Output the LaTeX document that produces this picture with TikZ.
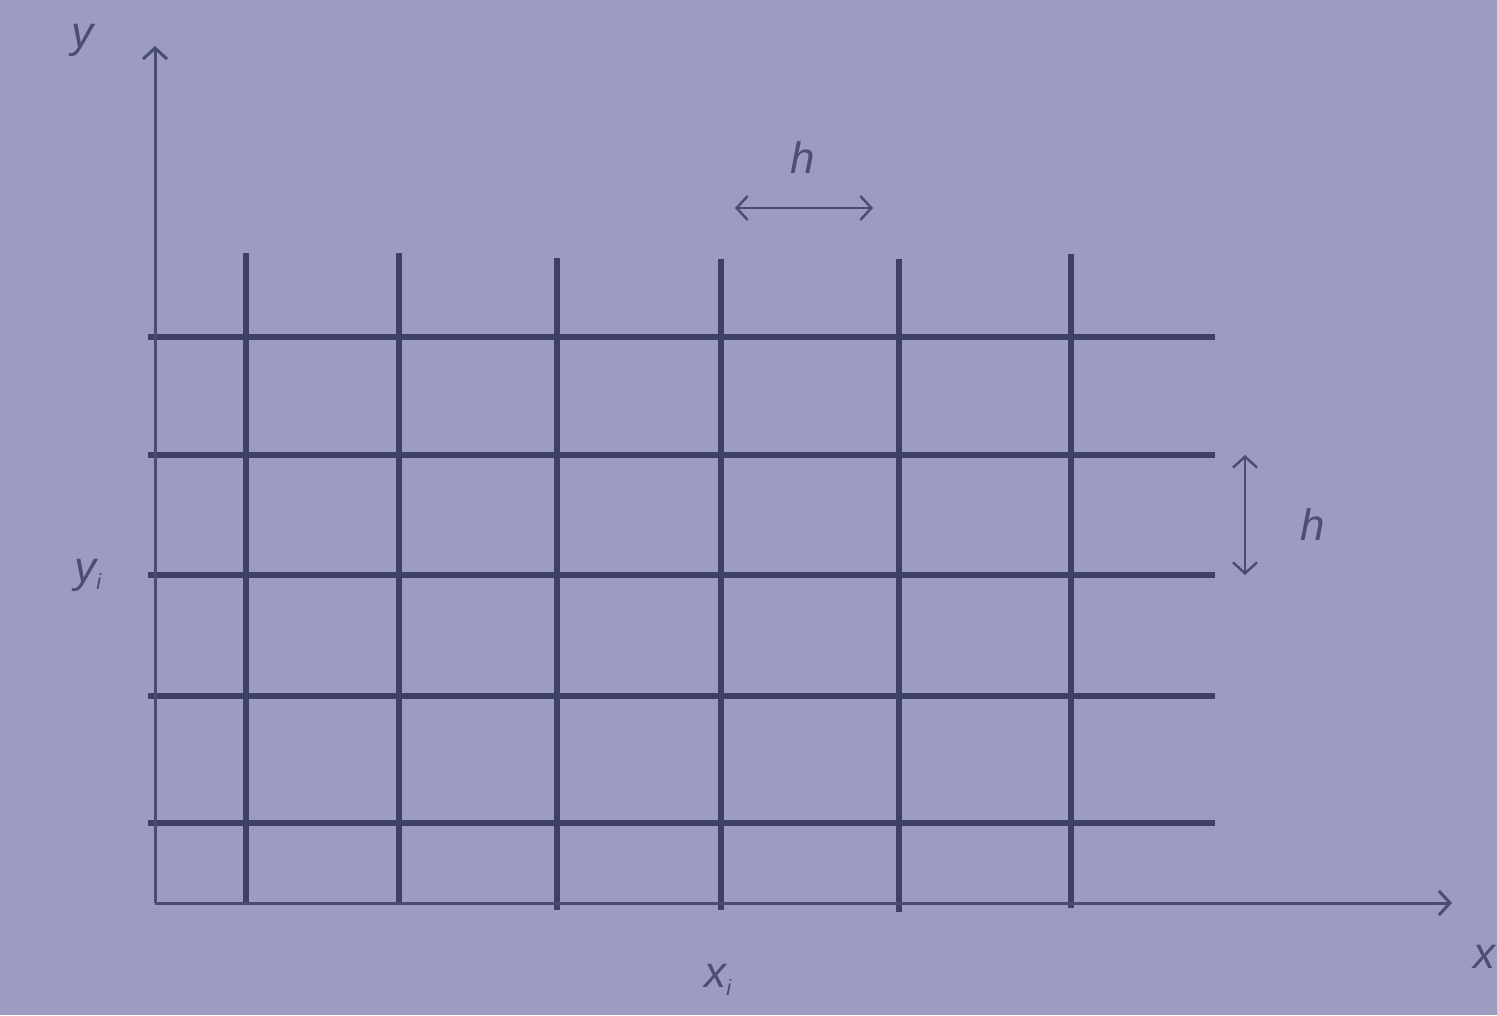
\documentclass[tikz,border=0pt]{standalone}
\usepackage{fontspec}
\setmainfont{Liberation Sans}
\usetikzlibrary{arrows.meta}
\definecolor{bgpaper}{HTML}{9B9CBF}
\definecolor{gridink}{HTML}{3E4065}
\definecolor{axisink}{HTML}{4A4C70}
\definecolor{labelink}{HTML}{4C4E72}
\tikzset{
  gridline/.style={draw=gridink, line width=6pt},
  axisline/.style={draw=axisink, line width=3pt, -{Straight Barb[length=11pt,width=24pt,line width=3pt]}},
  spanarrow/.style={draw=axisink, line width=2.4pt, {Straight Barb[length=11pt,width=24pt,line width=2.4pt]}-{Straight Barb[length=11pt,width=24pt,line width=2.4pt]}},
  axlabel/.style={text=labelink, inner sep=0pt, font=\fontsize{44}{52}\selectfont\itshape}
}
\begin{document}
\begin{tikzpicture}[x=1pt, y=-1pt]

  %% ════ background ════
  \fill[bgpaper] (0,0) rectangle (1497,1015);

  %% ════ horizontal grid lines ════
  \foreach \gy in {337,455,575,696,823}
    \draw[gridline] (148,\gy) -- (1215,\gy);

  %% ════ vertical grid lines (top, bottom as measured) ════
  \foreach \gx/\gt/\gb in {246/253/905, 399/253/905, 557/258/910, 721/259/910, 899/259/912, 1071/254/908}
    \draw[gridline] (\gx,\gt) -- (\gx,\gb);

  %% ════ axes ════
  \coordinate (origin) at (155,903);
  \coordinate (ytip) at (155,46);
  \coordinate (xtip) at (1452,903);
  \draw[axisline] (origin) -- (ytip);
  \draw[axisline] (origin) -- (xtip);

  %% ════ spacing arrows ════
  \coordinate (hxleft) at (735,208);
  \coordinate (hxright) at (873,208);
  \coordinate (hytop) at (1245,455);
  \coordinate (hybot) at (1245,575);
  \draw[spanarrow] (hxleft) -- (hxright);
  \draw[spanarrow] (hytop) -- (hybot);

  %% ════ labels ════
  %% x sits at the right edge, as in the reference; kept inside the page
  \node[axlabel] (ylab) at (82,40) {y};
  \node[axlabel, anchor=east] (xlab) at (1496,957) {x};
  \node[axlabel] (yilab) at (88,575) {y\textsubscript{\fontsize{22}{26}\selectfont i}};
  \node[axlabel] (xilab) at (718,980) {x\textsubscript{\fontsize{22}{26}\selectfont i}};
  \node[axlabel] (hxlab) at (803,158) {h};
  \node[axlabel] (hylab) at (1313,525) {h};

  \pgfresetboundingbox
  \path[use as bounding box] (0,0) rectangle (1497,1015);
\end{tikzpicture}
\end{document}
